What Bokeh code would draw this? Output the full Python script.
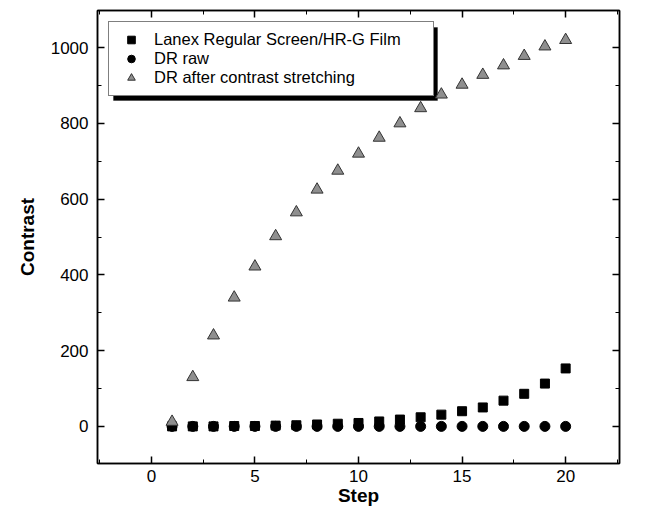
from bokeh.plotting import figure
from bokeh.models import (Range1d, LinearAxis, SingleIntervalTicker, Legend, LegendItem,
                          BoxAnnotation, Node, CustomJSTickFormatter)
from bokeh.embed import file_html
from bokeh.resources import INLINE

steps = list(range(1, 21))
lanex = [0, 0, 0, 1, 1, 2, 3, 5, 7, 9, 13, 18, 24, 31, 40, 50, 68, 86, 113, 153]
dr_raw = [0] * 20
dr_stretch = [12, 130, 240, 340, 422, 502, 565, 625, 675, 720, 762, 800, 840, 876, 902,
              928, 953, 978, 1003, 1020]

FONT = "Liberation Sans"

p = figure(frame_width=522, frame_height=453, x_range=Range1d(-2.6, 22.6),
           y_range=Range1d(-98, 1098), output_backend="svg", toolbar_location=None,
           min_border_left=97, min_border_top=10, min_border_right=28, min_border_bottom=60,
           x_axis_label="Step", y_axis_label="Contrast")
p.grid.visible = False
p.outline_line_color = "black"
p.outline_line_width = 1.5

xt = SingleIntervalTicker(interval=5, num_minor_ticks=2)
yt = SingleIntervalTicker(interval=200, num_minor_ticks=2)
p.xaxis.ticker = xt
p.yaxis.ticker = yt

for ax in [p.xaxis[0], p.yaxis[0]]:
    ax.major_tick_in = 7
    ax.major_tick_out = 0
    ax.minor_tick_in = 4
    ax.minor_tick_out = 0
    ax.axis_line_width = 1.5
    ax.major_tick_line_width = 1.5
    ax.minor_tick_line_width = 1
    ax.major_label_text_font = FONT
    ax.major_label_text_font_size = "17px"
    ax.major_label_text_color = "black"
    ax.axis_label_text_font = FONT
    ax.axis_label_text_font_size = "19px"
    ax.axis_label_text_font_style = "bold"
    ax.axis_label_text_color = "black"

p.yaxis.major_label_standoff = 9
p.yaxis.axis_label_standoff = 10
p.xaxis.major_label_standoff = 6
p.xaxis.axis_label_standoff = 0

blank = CustomJSTickFormatter(code="return ''")
for loc, tk in [("above", xt), ("right", yt)]:
    ax = LinearAxis(ticker=tk, formatter=blank, major_tick_in=7, major_tick_out=0,
                    minor_tick_in=4, minor_tick_out=0, major_label_standoff=0,
                    axis_line_width=1.5, major_tick_line_width=1.5)
    p.add_layout(ax, loc)

r_sq = p.scatter(steps, lanex, marker="square", size=9, fill_color="black",
                 line_color="black")
r_ci = p.scatter(steps, dr_raw, marker="circle", size=10, fill_color="black",
                 line_color="black")
r_tr = p.scatter(steps, dr_stretch, marker="triangle", size=12, fill_color="#8f8f8f",
                 line_color="#333333", line_width=1)

shadow = BoxAnnotation(left=Node(target="frame", symbol="left", offset=16),
                       right=Node(target="frame", symbol="left", offset=340),
                       top=Node(target="frame", symbol="top", offset=17),
                       bottom=Node(target="frame", symbol="top", offset=90),
                       fill_color="black", fill_alpha=1, line_color="black",
                       level="underlay")
p.add_layout(shadow)

legend = Legend(items=[LegendItem(label="Lanex Regular Screen/HR-G Film", renderers=[r_sq]),
                       LegendItem(label="DR raw", renderers=[r_ci]),
                       LegendItem(label="DR after contrast stretching", renderers=[r_tr])],
                location="top_left", margin=11, padding=8, spacing=0,
                glyph_width=28, glyph_height=19, label_height=19, label_width=271,
                label_standoff=9, label_text_font=FONT, label_text_font_size="16.5px",
                label_text_color="black", border_line_color="black",
                border_line_width=1, background_fill_alpha=1)
p.add_layout(legend)

open("out.html", "w").write(file_html(p, INLINE))
